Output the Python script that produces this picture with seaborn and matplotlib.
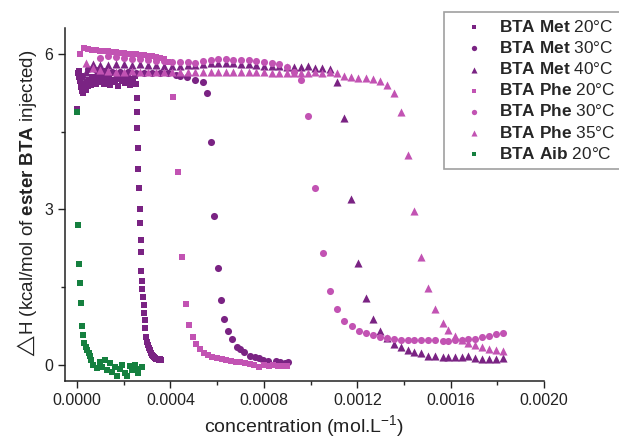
import matplotlib
matplotlib.use("Agg")
import matplotlib.pyplot as plt
import seaborn as sns
import pandas as pd
from matplotlib.ticker import MultipleLocator, FormatStrFormatter

# --- data (concentration in mol/L, dH in kcal/mol) ---
met20_x = [0.000002, 0.000004, 0.000007, 0.00001, 0.000013, 0.000016, 0.000019, 0.000022,
           0.000026, 0.00003, 0.000034, 0.000038, 0.000043, 0.000048, 0.000053, 0.000058,
           0.000064, 0.00007, 0.000076, 0.000082, 0.000088, 0.000094, 0.0001, 0.000107,
           0.000114, 0.000121, 0.000128, 0.000135, 0.000142, 0.000149, 0.000156, 0.000163,
           0.00017, 0.000177, 0.000184, 0.000191, 0.000198, 0.000205, 0.000212, 0.000219,
           0.000226, 0.000233, 0.00024, 0.000247, 0.000253,
           0.000257, 0.000259, 0.000259, 0.000261, 0.000263, 0.000265, 0.000268, 0.00027,
           0.000272, 0.000274, 0.000276, 0.000278, 0.00028, 0.000283, 0.000285, 0.000287,
           0.00029, 0.000292, 0.000296, 0.0003, 0.000304, 0.000309, 0.000313, 0.000318,
           0.000322, 0.000326, 0.00033, 0.000335, 0.00034, 0.000345, 0.00035, 0.000355, 0.00036]
met20_y = [4.94, 5.62, 5.55, 5.66, 5.48, 5.58, 5.35, 5.28, 5.25, 5.32, 5.42, 5.3, 5.45, 5.38,
           5.5, 5.4, 5.55, 5.44, 5.52, 5.42, 5.58, 5.45, 5.5, 5.6, 5.42, 5.53, 5.47, 5.56,
           5.4, 5.5, 5.62, 5.45, 5.52, 5.38, 5.55, 5.48, 5.6, 5.43, 5.5, 5.57, 5.4, 5.52,
           5.46, 5.58, 5.42,
           5.15, 4.88, 4.56, 4.19, 3.78, 3.42, 3.0, 2.74, 2.41, 2.18, 1.81, 1.62, 1.47, 1.31,
           1.16, 1.0, 0.87, 0.71, 0.54, 0.44, 0.39, 0.33, 0.28, 0.23, 0.2, 0.17, 0.15, 0.13,
           0.12, 0.11, 0.1, 0.12, 0.1]

met30_x = [0.000021, 0.000047, 0.000081, 0.000116, 0.00015, 0.000184, 0.000219, 0.000253,
           0.000287, 0.000322, 0.000356, 0.00039, 0.000425, 0.000442, 0.000472, 0.000506,
           0.00054, 0.000557, 0.000574, 0.000587, 0.000605, 0.000617, 0.00063, 0.000647,
           0.000665, 0.000686, 0.0007, 0.000716, 0.000742, 0.000763, 0.00078, 0.000797,
           0.000819, 0.00085, 0.00087, 0.000892, 0.000905]
met30_y = [5.55, 5.71, 5.68, 5.66, 5.65, 5.64, 5.64, 5.63, 5.63, 5.62, 5.62, 5.62, 5.6,
           5.58, 5.56, 5.5, 5.46, 5.25, 4.29, 2.88, 1.87, 1.25, 0.89, 0.66, 0.5, 0.35, 0.31,
           0.25, 0.17, 0.15, 0.13, 0.1, 0.08, 0.08, 0.06, 0.04, 0.06]

# shared injection grid for the two triangle series
tri_x = [0.0000386, 0.0000686, 0.0000986, 0.000133, 0.000167, 0.000202, 0.000236, 0.00027,
         0.000304, 0.000339, 0.000373, 0.000407, 0.000442, 0.000476, 0.000506, 0.00054,
         0.000574, 0.000605, 0.000639, 0.000669, 0.000703, 0.000737, 0.000767, 0.000802,
         0.000836, 0.000866, 0.0009, 0.00093, 0.00096, 0.00099, 0.00102, 0.00105, 0.001085,
         0.001115, 0.001145, 0.001175, 0.001205, 0.001239, 0.001269, 0.001299, 0.001329,
         0.001359, 0.001389, 0.001419, 0.001445, 0.001475, 0.001505, 0.001535, 0.001565,
         0.00159, 0.00162, 0.00165, 0.001676, 0.001706, 0.001736, 0.001762, 0.001792, 0.001822]
met40_y = [5.65, 5.8, 5.78, 5.78, 5.8, 5.8, 5.78, 5.8, 5.79, 5.78, 5.77, 5.76, 5.77, 5.78,
           5.78, 5.8, 5.82, 5.82, 5.83, 5.82, 5.8, 5.8, 5.78, 5.77, 5.77, 5.76, 5.75, 5.74,
           5.74, 5.76, 5.73, 5.72, 5.7, 5.46, 4.77, 3.2, 1.97, 1.29, 0.89, 0.66, 0.52, 0.4,
           0.35, 0.29, 0.25, 0.23, 0.18, 0.17, 0.16, 0.16, 0.16, 0.16, 0.17, 0.13, 0.12,
           0.12, 0.12, 0.13]
phe35_y = [5.82, 5.72, 5.68, 5.66, 5.65, 5.65, 5.66, 5.65, 5.65, 5.64, 5.65, 5.64, 5.65,
           5.65, 5.64, 5.65, 5.65, 5.64, 5.64, 5.65, 5.65, 5.64, 5.64, 5.64, 5.63, 5.63,
           5.63, 5.63, 5.62, 5.62, 5.64, 5.62, 5.64, 5.62, 5.58, 5.56, 5.54, 5.54, 5.52,
           5.48, 5.39, 5.25, 4.87, 4.05, 2.97, 2.08, 1.49, 1.08, 0.81, 0.68, 0.55, 0.48,
           0.42, 0.39, 0.35, 0.31, 0.29, 0.27]

phe20_x = [0.0000129, 0.00003, 0.0000472, 0.0000643, 0.0000815, 0.0000986, 0.000116,
           0.000133, 0.00015, 0.000167, 0.000184, 0.000202, 0.000219, 0.000236, 0.000253,
           0.00027, 0.000287, 0.000304, 0.000322, 0.000339, 0.000356, 0.000373, 0.00039,
           0.00041, 0.000433, 0.00045, 0.000465, 0.00048, 0.000495, 0.000511, 0.000528,
           0.000545, 0.000562, 0.000579, 0.0006, 0.00062, 0.00064, 0.00066, 0.00068, 0.0007,
           0.00072, 0.00074, 0.00076, 0.00078, 0.0008, 0.00082, 0.00084, 0.00086, 0.00088,
           0.0009]
phe20_y = [6.0, 6.12, 6.1, 6.08, 6.07, 6.06, 6.06, 6.05, 6.03, 6.03, 6.02, 6.01, 6.0, 6.0,
           5.99, 5.98, 5.97, 5.96, 5.95, 5.93, 5.92, 5.9, 5.85,
           5.17, 3.72, 2.08, 1.18, 0.77, 0.54, 0.41, 0.31, 0.23, 0.19, 0.15, 0.13, 0.11,
           0.1, 0.08, 0.06, 0.05, 0.04, 0.02, 0.0, -0.04, 0.0, -0.02, -0.01, -0.03, -0.02,
           -0.02]

phe30_x = [0.0000986, 0.000133, 0.000167, 0.000202, 0.000236, 0.00027, 0.000304, 0.000339,
           0.000373, 0.000407, 0.000442, 0.000476, 0.000506, 0.00054, 0.000574, 0.000605,
           0.000639, 0.000669, 0.000703, 0.000737, 0.000767, 0.000802, 0.000836, 0.000866,
           0.0009, 0.00093, 0.00096, 0.00099, 0.00102, 0.001055, 0.001085, 0.001115,
           0.001145, 0.001179, 0.001209, 0.001239, 0.001269, 0.001299, 0.001329, 0.001359,
           0.001389, 0.001419, 0.001445, 0.001475, 0.001505, 0.001535, 0.001565, 0.00159,
           0.00162, 0.00165, 0.001676, 0.001706, 0.001736, 0.001762, 0.001792, 0.001822]
phe30_y = [5.92, 5.95, 5.93, 5.92, 5.9, 5.9, 5.88, 5.87, 5.86, 5.85, 5.85, 5.85, 5.83,
           5.87, 5.88, 5.9, 5.9, 5.88, 5.88, 5.88, 5.86, 5.85, 5.83, 5.81, 5.75, 5.65, 5.5,
           4.8, 3.42, 2.16, 1.43, 1.08, 0.85, 0.75, 0.66, 0.62, 0.58, 0.54, 0.52, 0.5, 0.48,
           0.48, 0.48, 0.48, 0.48, 0.48, 0.46, 0.46, 0.48, 0.48, 0.5, 0.5, 0.54, 0.56, 0.6,
           0.62]

aib20_x = [0.000002, 0.000004, 0.000009, 0.000013, 0.000017, 0.000021, 0.000026, 0.00003,
           0.000038, 0.000043, 0.00005, 0.000056, 0.000062, 0.0000686, 0.0000857, 0.0000986,
           0.000107, 0.00012, 0.000129, 0.000141, 0.00015, 0.000163, 0.000171, 0.000184,
           0.000193, 0.000206, 0.000214, 0.000227, 0.000236, 0.000249, 0.000257, 0.000262,
           0.000279]
aib20_y = [4.87, 2.7, 1.95, 1.58, 1.2, 0.75, 0.58, 0.42, 0.35, 0.29, 0.23, 0.17, 0.1, 0.0,
           -0.06, 0.06, -0.04, 0.1, -0.1, 0.04, -0.13, -0.04, -0.21, -0.08, 0.0, -0.15,
           -0.22, -0.02, -0.1, 0.0, -0.08, -0.15, -0.04]

dark = "#7a2383"
pink = "#c253b3"
green = "#15803f"

series = [
    (r"$\mathbf{BTA\ Met}$ 20°C", met20_x, met20_y, "s", dark, 22),
    (r"$\mathbf{BTA\ Met}$ 30°C", met30_x, met30_y, "o", dark, 26),
    (r"$\mathbf{BTA\ Met}$ 40°C", tri_x, met40_y, "^", dark, 34),
    (r"$\mathbf{BTA\ Phe}$ 20°C", phe20_x, phe20_y, "s", pink, 22),
    (r"$\mathbf{BTA\ Phe}$ 30°C", phe30_x, phe30_y, "o", pink, 26),
    (r"$\mathbf{BTA\ Phe}$ 35°C", tri_x, phe35_y, "^", pink, 34),
    (r"$\mathbf{BTA\ Aib}$ 20°C", aib20_x, aib20_y, "s", green, 22),
]

sns.set_style("ticks")
plt.rcParams["font.family"] = ["Liberation Sans", "DejaVu Sans"]
plt.rcParams["mathtext.fontset"] = "custom"
plt.rcParams["mathtext.rm"] = "Liberation Sans"
plt.rcParams["mathtext.bf"] = "Liberation Sans:bold"
plt.rcParams["mathtext.it"] = "Liberation Sans:italic"

fig = plt.figure(figsize=(6.19, 4.42), dpi=100)
ax = fig.add_axes([0.105, 0.138, 0.774, 0.799])

for label, xs, ys, mk, col, size in series:
    df = pd.DataFrame({"conc": xs, "dH": ys})
    sns.scatterplot(data=df, x="conc", y="dH", marker=mk, color=col, s=size,
                    linewidth=0, ax=ax, label=label)

ax.set_xlim(-0.0000514, 0.002)
ax.set_ylim(-0.31, 6.5)
ax.xaxis.set_major_locator(MultipleLocator(0.0004))
ax.xaxis.set_minor_locator(MultipleLocator(0.0002))
ax.xaxis.set_major_formatter(FormatStrFormatter("%.4f"))
ax.yaxis.set_major_locator(MultipleLocator(3))
ax.yaxis.set_minor_locator(MultipleLocator(1.5))
ax.tick_params(which="major", length=5, width=1, labelsize=11.5, colors="#222222")
ax.tick_params(which="minor", length=3, width=1)
sns.despine(ax=ax)
for sp in ["left", "bottom"]:
    ax.spines[sp].set_linewidth(1.1)
    ax.spines[sp].set_color("#222222")

ax.set_xlabel(r"concentration (mol.L$^{\mathregular{-1}}$)", fontsize=14, color="#222222")
ax.set_ylabel(r"$\mathrm{\triangle}\!$H (kcal/mol of $\mathbf{ester\ BTA}$ injected)",
              fontsize=13.5, color="#222222", labelpad=4)

leg = ax.legend(loc="upper left", bbox_to_anchor=(0.7173, 0.973),
                bbox_transform=fig.transFigure, fontsize=12.4, frameon=True,
                fancybox=False, edgecolor="#888888", handlelength=2.7,
                handletextpad=0.1, borderpad=0.4, borderaxespad=0,
                labelspacing=0.3, markerscale=0.75)
leg.get_frame().set_linewidth(1.2)

plt.savefig("out.png", dpi=100)
